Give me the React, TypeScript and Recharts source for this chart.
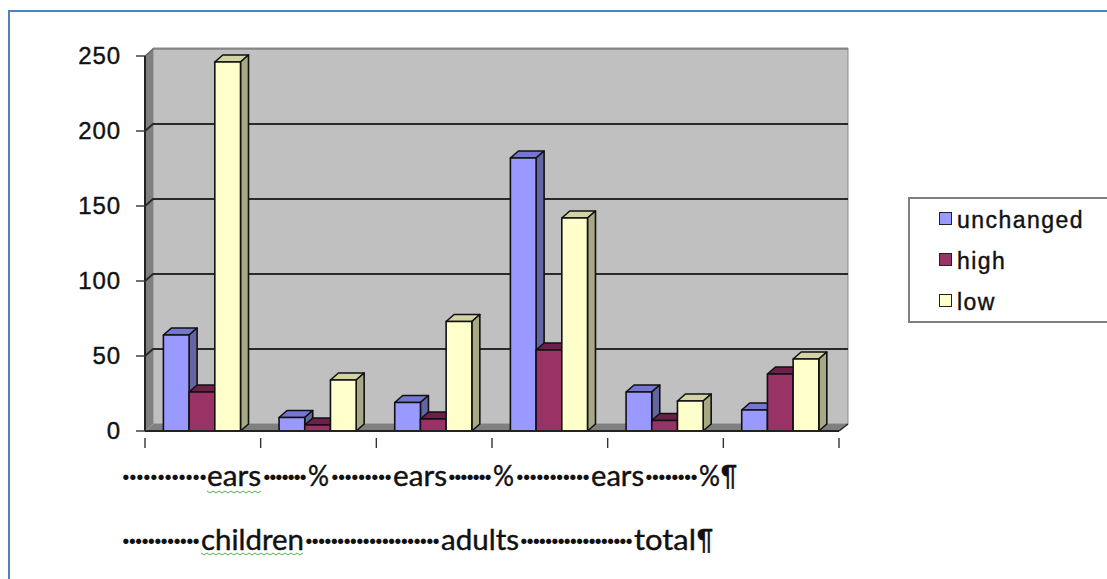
import * as React from "react";
import { Bar, BarChart, CartesianGrid, Legend, XAxis, YAxis } from "recharts";

const groups = ["g1", "g2", "g3", "g4", "g5", "g6"];
const unchanged = [64, 9, 19, 182, 26, 14];
const high = [26, 4, 8, 54, 7, 38];
const low = [246, 34, 73, 142, 20, 48];
const yTicks = [0, 50, 100, 150, 200, 250];

const data = groups.map((g, i) => ({
  g,
  unchanged: unchanged[i],
  high: high[i],
  low: low[i],
}));

const W = 1107;
const H = 579;
const LEFT = 145;
const RIGHT = 839;
const TOP = 56;
const BOTTOM = 431;
const DX = 8;
const DY = 7;
const BAND = (RIGHT - LEFT) / groups.length;

const SHADES: Record<string, { top: string; side: string }> = {
  "#9999FF": { top: "#7377D2", side: "#63669F" },
  "#993366": { top: "#6C1F48", side: "#6C1F48" },
  "#FFFFCC": { top: "#D3D3A5", side: "#A8A884" },
};

function Bar3D(props: any) {
  const { y, width, height, fill } = props;
  const x = props.x - 0.6;
  const s = SHADES[fill];
  const line = { stroke: "#111", strokeWidth: 1.6, strokeLinejoin: "round" as const };
  return (
    <g>
      <polygon
        points={`${x},${y} ${x + DX},${y - DY} ${x + width + DX},${y - DY} ${x + width},${y}`}
        fill={s.top}
        {...line}
      />
      <polygon
        points={`${x + width},${y} ${x + width + DX},${y - DY} ${x + width + DX},${y + height - DY} ${x + width},${y + height}`}
        fill={s.side}
        {...line}
      />
      <rect x={x} y={y} width={width} height={height} fill={fill} {...line} />
    </g>
  );
}

function GridLine(props: any) {
  const { y1, index } = props;
  if (y1 >= BOTTOM - 1) return null;
  const isTop = y1 <= TOP + 1;
  return (
    <polyline
      key={index}
      points={`${LEFT},${y1} ${LEFT + DX},${y1 - DY} ${RIGHT + DX + 1},${y1 - DY}`}
      fill="none"
      stroke={isTop ? "#666" : "#2a2a2a"}
      strokeWidth={isTop ? 1.2 : 2}
    />
  );
}

function EdgeTick(props: any) {
  const { x, y, index } = props;
  const left = x - BAND / 2;
  return (
    <g stroke="#333" strokeWidth={1.4}>
      <line x1={left} x2={left} y1={y - 1} y2={y + 9} />
      {index === groups.length - 1 && (
        <line x1={left + BAND} x2={left + BAND} y1={y - 1} y2={y + 9} />
      )}
    </g>
  );
}

function LegendBox({ payload }: any) {
  return (
    <div
      style={{
        boxSizing: "border-box",
        width: 210,
        height: 126,
        border: "2px solid #808080",
        background: "#fff",
        position: "relative",
      }}
    >
      {(payload || []).map((p: any, i: number) => (
        <div key={p.value}>
          <span
            style={{
              position: "absolute",
              left: 29,
              top: 13 + i * 41,
              width: 11,
              height: 11,
              background: p.color,
              border: "1.5px solid #222",
            }}
          />
          <span
            style={{
              position: "absolute",
              left: 47,
              top: 8 + i * 41,
              fontFamily: "Liberation Sans",
              fontSize: 23,
              letterSpacing: 1.45,
              lineHeight: "26px",
              color: "#111",
              WebkitTextStroke: "0.4px #111",
            }}
          >
            {p.value}
          </span>
        </div>
      ))}
    </div>
  );
}

// the text below the chart: pasted word-processor lines with formatting marks shown
const DOT = "·";
const row1 = [
  [DOT.repeat(12), 122, 85],
  ["ears", 207, 54],
  [DOT.repeat(7), 263, 44],
  ["%", 308, 21],
  [DOT.repeat(9), 331, 61],
  ["ears", 393, 54],
  [DOT.repeat(7), 448, 44],
  ["%", 493, 21],
  [DOT.repeat(11), 516, 74],
  ["ears", 591, 53],
  [DOT.repeat(8), 645, 53],
  ["%", 699, 21],
  ["¶", 721, 16],
] as const;
const row2 = [
  [DOT.repeat(12), 122, 78],
  ["children", 201, 103],
  [DOT.repeat(21), 305, 135],
  ["adults", 441, 78],
  [DOT.repeat(18), 520, 113],
  ["total", 634, 62],
  ["¶", 697, 16],
] as const;

function squiggle(x: number, y: number, w: number) {
  let d = `M${x},${y}`;
  for (let i = 3; i <= w; i += 3) d += ` L${x + i},${y + (i % 6 === 0 ? 0 : 2)}`;
  return d;
}

function TextRow({ row, y }: { row: readonly (readonly [string, number, number])[]; y: number }) {
  return (
    <>
      {row.map(([t, x, w]) => {
        const dots = t.startsWith(DOT);
        return (
          <text
            key={x}
            x={x}
            y={y}
            textLength={w}
            lengthAdjust={dots ? "spacing" : "spacingAndGlyphs"}
            fontFamily="Lato"
            fontSize={28}
            fontWeight={dots ? 700 : 400}
            fill="#111"
            stroke={dots ? "none" : "#111"}
            strokeWidth={0.4}
          >
            {t}
          </text>
        );
      })}
    </>
  );
}

export default function App() {
  return (
    <div style={{ position: "absolute", left: 0, top: 0, width: W, height: H, overflow: "hidden", background: "#fff" }}>
      {/* walls and floor of the 3d box, behind the chart */}
      <svg width={W} height={H} style={{ position: "absolute", left: 0, top: 0 }}>
        <polygon points={`${LEFT + DX},${TOP - DY - 1} ${RIGHT + DX + 1},${TOP - DY - 1} ${RIGHT + DX + 1},${BOTTOM - DY} ${LEFT + DX},${BOTTOM - DY}`} fill="#C0C0C0" stroke="#8a8a8a" />
        <polygon points={`${LEFT},${TOP} ${LEFT + DX},${TOP - DY - 1} ${LEFT + DX},${BOTTOM - DY} ${LEFT},${BOTTOM}`} fill="#808080" />
        <polygon points={`${LEFT},${BOTTOM} ${LEFT + DX},${BOTTOM - DY} ${RIGHT + DX + 1},${BOTTOM - DY} ${RIGHT},${BOTTOM}`} fill="#808080" />
      </svg>

      <div style={{ position: "absolute", left: 0, top: 0 }}>
        <BarChart
          width={W}
          height={H}
          data={data}
          barGap={0}
          barSize={25.7}
          margin={{ top: TOP, right: W - RIGHT, bottom: 0, left: 0 }}
        >
          <CartesianGrid vertical={false} horizontal={GridLine} />
          <XAxis
            dataKey="g"
            height={H - BOTTOM}
            tickLine={false}
            interval={0}
            tick={EdgeTick}
            axisLine={{ stroke: "#222", strokeWidth: 2 }}
          />
          <YAxis
            width={LEFT}
            domain={[0, 250]}
            ticks={yTicks}
            tickSize={9}
            tickMargin={15}
            tickLine={{ stroke: "#333", strokeWidth: 1.4 }}
            axisLine={{ stroke: "#222", strokeWidth: 2 }}
            tick={{ fontFamily: "Liberation Sans", fontSize: 24, fill: "#111", letterSpacing: 0.9, stroke: "#111", strokeWidth: 0.4, dy: -1 }}
          />
          <Legend
            layout="vertical"
            align="center"
            verticalAlign="middle"
            itemSorter={null}
            content={<LegendBox />}
            wrapperStyle={{ left: 908, top: 197, width: 210, height: 126 }}
          />
          <Bar dataKey="unchanged" name="unchanged" fill="#9999FF" shape={Bar3D} isAnimationActive={false} />
          <Bar dataKey="high" name="high" fill="#993366" shape={Bar3D} isAnimationActive={false} />
          <Bar dataKey="low" name="low" fill="#FFFFCC" shape={Bar3D} isAnimationActive={false} />
          <line x1={RIGHT} y1={BOTTOM} x2={RIGHT + DX + 1} y2={BOTTOM - DY} stroke="#222" strokeWidth={1.5} />
        </BarChart>
      </div>

      <svg width={W} height={H} style={{ position: "absolute", left: 0, top: 0, pointerEvents: "none" }}>
        <TextRow row={row1} y={486} />
        <TextRow row={row2} y={550} />
        <path d={squiggle(207, 491, 54)} fill="none" stroke="#4DB04D" strokeWidth={1} />
        <path d={squiggle(201, 553, 103)} fill="none" stroke="#4DB04D" strokeWidth={1} />
      </svg>

      <div
        style={{
          position: "absolute",
          left: 8,
          top: 10,
          width: W,
          height: H,
          borderLeft: "2px solid #4F81BD",
          borderTop: "2px solid #4F81BD",
          pointerEvents: "none",
        }}
      />
    </div>
  );
}
